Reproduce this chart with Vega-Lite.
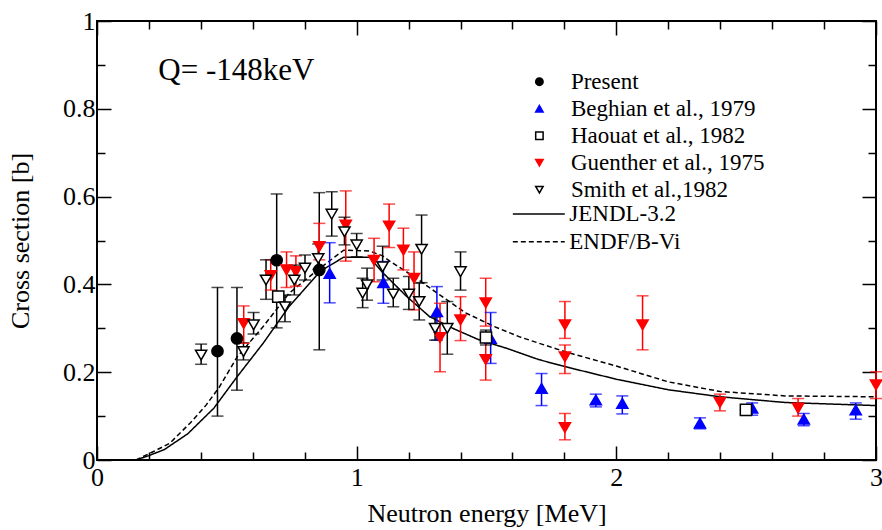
{
  "$schema": "https://vega.github.io/schema/vega-lite/v6.json",
  "width": 779,
  "height": 439,
  "autosize": {"type": "none"},
  "padding": {"left": 97, "top": 21, "right": 6, "bottom": 70},
  "background": "white",
  "config": {
    "view": {"stroke": "black", "strokeWidth": 2},
    "font": "Liberation Serif",
    "axis": {
      "grid": false,
      "domain": false,
      "tickColor": "black",
      "tickWidth": 1.5,
      "labelColor": "black",
      "titleColor": "black",
      "labelFont": "Liberation Serif",
      "titleFont": "Liberation Serif",
      "labelFontSize": 26,
      "titleFontSize": 26,
      "titleFontWeight": "normal",
      "labelFlush": false,
      "labelOverlap": false
    },
    "legend": {
      "labelFont": "Liberation Serif",
      "labelColor": "black",
      "labelFontSize": 23,
      "labelLimit": 400
    }
  },
  "datasets": {
    "pts": [
      {"series": "Present", "x": 0.464, "y": 0.248, "ymin": 0.100, "ymax": 0.393},
      {"series": "Present", "x": 0.539, "y": 0.277, "ymin": 0.159, "ymax": 0.393},
      {"series": "Present", "x": 0.692, "y": 0.455, "ymin": 0.301, "ymax": 0.606},
      {"series": "Present", "x": 0.856, "y": 0.433, "ymin": 0.251, "ymax": 0.609},
      {"series": "Beghian et al., 1979", "x": 0.896, "y": 0.425, "ymin": 0.358, "ymax": 0.495},
      {"series": "Beghian et al., 1979", "x": 1.103, "y": 0.404, "ymin": 0.357, "ymax": 0.452},
      {"series": "Beghian et al., 1979", "x": 1.309, "y": 0.338, "ymin": 0.273, "ymax": 0.395},
      {"series": "Beghian et al., 1979", "x": 1.516, "y": 0.277, "ymin": 0.220, "ymax": 0.336},
      {"series": "Beghian et al., 1979", "x": 1.712, "y": 0.163, "ymin": 0.124, "ymax": 0.197},
      {"series": "Beghian et al., 1979", "x": 1.921, "y": 0.137, "ymin": 0.121, "ymax": 0.150},
      {"series": "Beghian et al., 1979", "x": 2.023, "y": 0.129, "ymin": 0.105, "ymax": 0.146},
      {"series": "Beghian et al., 1979", "x": 2.322, "y": 0.084, "ymin": 0.071, "ymax": 0.096},
      {"series": "Beghian et al., 1979", "x": 2.523, "y": 0.118, "ymin": 0.102, "ymax": 0.130},
      {"series": "Beghian et al., 1979", "x": 2.722, "y": 0.093, "ymin": 0.078, "ymax": 0.106},
      {"series": "Beghian et al., 1979", "x": 2.922, "y": 0.114, "ymin": 0.093, "ymax": 0.130},
      {"series": "Haouat et al., 1982", "x": 0.698, "y": 0.372, "ymin": 0.361, "ymax": 0.383},
      {"series": "Haouat et al., 1982", "x": 1.498, "y": 0.279, "ymin": 0.262, "ymax": 0.296},
      {"series": "Haouat et al., 1982", "x": 2.499, "y": 0.114, "ymin": 0.114, "ymax": 0.114},
      {"series": "Guenther et al., 1975", "x": 0.565, "y": 0.311, "ymin": 0.266, "ymax": 0.351},
      {"series": "Guenther et al., 1975", "x": 0.669, "y": 0.420, "ymin": 0.387, "ymax": 0.456},
      {"series": "Guenther et al., 1975", "x": 0.730, "y": 0.433, "ymin": 0.393, "ymax": 0.474},
      {"series": "Guenther et al., 1975", "x": 0.766, "y": 0.429, "ymin": 0.396, "ymax": 0.465},
      {"series": "Guenther et al., 1975", "x": 0.856, "y": 0.486, "ymin": 0.456, "ymax": 0.539},
      {"series": "Guenther et al., 1975", "x": 0.958, "y": 0.535, "ymin": 0.453, "ymax": 0.613},
      {"series": "Guenther et al., 1975", "x": 1.067, "y": 0.455, "ymin": 0.406, "ymax": 0.505},
      {"series": "Guenther et al., 1975", "x": 1.125, "y": 0.533, "ymin": 0.484, "ymax": 0.583},
      {"series": "Guenther et al., 1975", "x": 1.180, "y": 0.478, "ymin": 0.433, "ymax": 0.528},
      {"series": "Guenther et al., 1975", "x": 1.221, "y": 0.414, "ymin": 0.342, "ymax": 0.474},
      {"series": "Guenther et al., 1975", "x": 1.321, "y": 0.279, "ymin": 0.201, "ymax": 0.357},
      {"series": "Guenther et al., 1975", "x": 1.400, "y": 0.319, "ymin": 0.272, "ymax": 0.372},
      {"series": "Guenther et al., 1975", "x": 1.497, "y": 0.358, "ymin": 0.305, "ymax": 0.414},
      {"series": "Guenther et al., 1975", "x": 1.497, "y": 0.229, "ymin": 0.182, "ymax": 0.276},
      {"series": "Guenther et al., 1975", "x": 1.802, "y": 0.308, "ymin": 0.277, "ymax": 0.361},
      {"series": "Guenther et al., 1975", "x": 1.802, "y": 0.235, "ymin": 0.197, "ymax": 0.262},
      {"series": "Guenther et al., 1975", "x": 1.802, "y": 0.074, "ymin": 0.046, "ymax": 0.106},
      {"series": "Guenther et al., 1975", "x": 2.101, "y": 0.308, "ymin": 0.251, "ymax": 0.374},
      {"series": "Guenther et al., 1975", "x": 2.399, "y": 0.131, "ymin": 0.112, "ymax": 0.150},
      {"series": "Guenther et al., 1975", "x": 2.700, "y": 0.118, "ymin": 0.100, "ymax": 0.140},
      {"series": "Guenther et al., 1975", "x": 3.000, "y": 0.171, "ymin": 0.140, "ymax": 0.201},
      {"series": "Smith et al.,1982", "x": 0.401, "y": 0.239, "ymin": 0.218, "ymax": 0.264},
      {"series": "Smith et al.,1982", "x": 0.564, "y": 0.247, "ymin": 0.228, "ymax": 0.267},
      {"series": "Smith et al.,1982", "x": 0.603, "y": 0.308, "ymin": 0.287, "ymax": 0.336},
      {"series": "Smith et al.,1982", "x": 0.651, "y": 0.410, "ymin": 0.366, "ymax": 0.456},
      {"series": "Smith et al.,1982", "x": 0.724, "y": 0.349, "ymin": 0.315, "ymax": 0.376},
      {"series": "Smith et al.,1982", "x": 0.760, "y": 0.410, "ymin": 0.376, "ymax": 0.444},
      {"series": "Smith et al.,1982", "x": 0.801, "y": 0.437, "ymin": 0.410, "ymax": 0.467},
      {"series": "Smith et al.,1982", "x": 0.852, "y": 0.459, "ymin": 0.434, "ymax": 0.492},
      {"series": "Smith et al.,1982", "x": 0.904, "y": 0.560, "ymin": 0.510, "ymax": 0.611},
      {"series": "Smith et al.,1982", "x": 0.953, "y": 0.520, "ymin": 0.490, "ymax": 0.553},
      {"series": "Smith et al.,1982", "x": 1.000, "y": 0.490, "ymin": 0.463, "ymax": 0.516},
      {"series": "Smith et al.,1982", "x": 1.023, "y": 0.380, "ymin": 0.347, "ymax": 0.414},
      {"series": "Smith et al.,1982", "x": 1.040, "y": 0.399, "ymin": 0.364, "ymax": 0.437},
      {"series": "Smith et al.,1982", "x": 1.100, "y": 0.440, "ymin": 0.410, "ymax": 0.487},
      {"series": "Smith et al.,1982", "x": 1.141, "y": 0.378, "ymin": 0.349, "ymax": 0.414},
      {"series": "Smith et al.,1982", "x": 1.201, "y": 0.378, "ymin": 0.343, "ymax": 0.418},
      {"series": "Smith et al.,1982", "x": 1.241, "y": 0.361, "ymin": 0.319, "ymax": 0.403},
      {"series": "Smith et al.,1982", "x": 1.250, "y": 0.480, "ymin": 0.404, "ymax": 0.558},
      {"series": "Smith et al.,1982", "x": 1.302, "y": 0.300, "ymin": 0.273, "ymax": 0.326},
      {"series": "Smith et al.,1982", "x": 1.349, "y": 0.300, "ymin": 0.241, "ymax": 0.361},
      {"series": "Smith et al.,1982", "x": 1.400, "y": 0.429, "ymin": 0.387, "ymax": 0.474}
    ],
    "lines": [
      {"model": "JENDL-3.2", "x": 0.15, "y": 0.0},
      {"model": "JENDL-3.2", "x": 0.20, "y": 0.010},
      {"model": "JENDL-3.2", "x": 0.26, "y": 0.024},
      {"model": "JENDL-3.2", "x": 0.35, "y": 0.060},
      {"model": "JENDL-3.2", "x": 0.45, "y": 0.118},
      {"model": "JENDL-3.2", "x": 0.54, "y": 0.190},
      {"model": "JENDL-3.2", "x": 0.64, "y": 0.266},
      {"model": "JENDL-3.2", "x": 0.74, "y": 0.350},
      {"model": "JENDL-3.2", "x": 0.86, "y": 0.430},
      {"model": "JENDL-3.2", "x": 0.95, "y": 0.462},
      {"model": "JENDL-3.2", "x": 1.05, "y": 0.462},
      {"model": "JENDL-3.2", "x": 1.10, "y": 0.427},
      {"model": "JENDL-3.2", "x": 1.19, "y": 0.374},
      {"model": "JENDL-3.2", "x": 1.28, "y": 0.327},
      {"model": "JENDL-3.2", "x": 1.37, "y": 0.300},
      {"model": "JENDL-3.2", "x": 1.47, "y": 0.274},
      {"model": "JENDL-3.2", "x": 1.58, "y": 0.254},
      {"model": "JENDL-3.2", "x": 1.70, "y": 0.229},
      {"model": "JENDL-3.2", "x": 1.80, "y": 0.213},
      {"model": "JENDL-3.2", "x": 2.00, "y": 0.184},
      {"model": "JENDL-3.2", "x": 2.20, "y": 0.160},
      {"model": "JENDL-3.2", "x": 2.40, "y": 0.144},
      {"model": "JENDL-3.2", "x": 2.65, "y": 0.131},
      {"model": "JENDL-3.2", "x": 3.00, "y": 0.124},
      {"model": "ENDF/B-Vi", "x": 0.15, "y": 0.0},
      {"model": "ENDF/B-Vi", "x": 0.22, "y": 0.020},
      {"model": "ENDF/B-Vi", "x": 0.28, "y": 0.038},
      {"model": "ENDF/B-Vi", "x": 0.36, "y": 0.085},
      {"model": "ENDF/B-Vi", "x": 0.42, "y": 0.125},
      {"model": "ENDF/B-Vi", "x": 0.47, "y": 0.165},
      {"model": "ENDF/B-Vi", "x": 0.54, "y": 0.235},
      {"model": "ENDF/B-Vi", "x": 0.64, "y": 0.304},
      {"model": "ENDF/B-Vi", "x": 0.74, "y": 0.380},
      {"model": "ENDF/B-Vi", "x": 0.85, "y": 0.433},
      {"model": "ENDF/B-Vi", "x": 0.95, "y": 0.478},
      {"model": "ENDF/B-Vi", "x": 1.05, "y": 0.476},
      {"model": "ENDF/B-Vi", "x": 1.10, "y": 0.465},
      {"model": "ENDF/B-Vi", "x": 1.13, "y": 0.452},
      {"model": "ENDF/B-Vi", "x": 1.22, "y": 0.418},
      {"model": "ENDF/B-Vi", "x": 1.32, "y": 0.376},
      {"model": "ENDF/B-Vi", "x": 1.42, "y": 0.335},
      {"model": "ENDF/B-Vi", "x": 1.53, "y": 0.304},
      {"model": "ENDF/B-Vi", "x": 1.63, "y": 0.280},
      {"model": "ENDF/B-Vi", "x": 1.80, "y": 0.247},
      {"model": "ENDF/B-Vi", "x": 2.00, "y": 0.214},
      {"model": "ENDF/B-Vi", "x": 2.20, "y": 0.178},
      {"model": "ENDF/B-Vi", "x": 2.40, "y": 0.156},
      {"model": "ENDF/B-Vi", "x": 2.65, "y": 0.146},
      {"model": "ENDF/B-Vi", "x": 3.00, "y": 0.144}
    ]
  },
  "resolve": {"axis": {"x": "independent", "y": "independent"}},
  "layer": [
    {
      "data": {"name": "lines"},
      "mark": {"type": "line", "color": "black", "strokeWidth": 1.5},
      "encoding": {
        "x": {"field": "x", "type": "quantitative",
              "scale": {"domain": [0, 3], "nice": false, "zero": false},
              "axis": {"orient": "bottom", "values": [0, 1, 2, 3], "tickSize": -14, "labelPadding": 18, "title": "Neutron energy [MeV]", "titlePadding": 10, "format": "~g"}},
        "y": {"field": "y", "type": "quantitative",
              "scale": {"domain": [0, 1], "nice": false, "zero": false},
              "axis": {"orient": "left", "values": [0, 0.2, 0.4, 0.6, 0.8, 1], "tickSize": -14, "labelPadding": 16, "title": "Cross section [b]", "titlePadding": 29, "format": "~g"}},
        "strokeDash": {"field": "model", "type": "nominal",
              "scale": {"domain": ["JENDL-3.2", "ENDF/B-Vi"], "range": [[1, 0], [5, 3]]},
              "legend": {"orient": "none", "legendX": 430.3, "legendY": 181.6, "title": null, "symbolType": "M-7,0H7", "symbolSize": 55, "symbolStrokeColor": "black", "symbolStrokeWidth": 1.5, "symbolFillColor": "transparent", "labelOffset": 19, "padding": 0, "rowPadding": 3.6}}
      }
    },
    {
      "data": {"name": "pts"},
      "mark": {"type": "rule", "strokeWidth": 1.5},
      "encoding": {
        "x": {"field": "x", "type": "quantitative",
              "axis": {"orient": "bottom", "values": [0.2, 0.4, 0.6, 0.8, 1.2, 1.4, 1.6, 1.8, 2.2, 2.4, 2.6, 2.8], "tickSize": -8, "labels": false, "title": null}},
        "y": {"field": "ymin", "type": "quantitative",
              "axis": {"orient": "left", "values": [0.1, 0.3, 0.5, 0.7, 0.9], "tickSize": -8, "labels": false, "title": null}},
        "y2": {"field": "ymax"},
        "color": {"field": "series", "type": "nominal", "legend": null,
              "scale": {"domain": ["Beghian et al., 1979", "Guenther et al., 1975", "Haouat et al., 1982", "Present", "Smith et al.,1982"],
                        "range": ["#0000ff", "#ff0000", "black", "black", "black"]}}
      }
    },
    {
      "data": {"name": "pts"},
      "mark": {"type": "tick", "orient": "horizontal", "size": 12, "thickness": 1.5},
      "encoding": {
        "x": {"field": "x", "type": "quantitative",
              "axis": {"orient": "top", "values": [0, 1, 2, 3], "tickSize": -14, "labels": false, "title": null}},
        "y": {"field": "ymax", "type": "quantitative",
              "axis": {"orient": "right", "values": [0, 0.2, 0.4, 0.6, 0.8, 1], "tickSize": -14, "labels": false, "title": null}},
        "color": {"field": "series", "type": "nominal", "legend": null}
      }
    },
    {
      "data": {"name": "pts"},
      "mark": {"type": "tick", "orient": "horizontal", "size": 12, "thickness": 1.5},
      "encoding": {
        "x": {"field": "x", "type": "quantitative",
              "axis": {"orient": "top", "values": [0.2, 0.4, 0.6, 0.8, 1.2, 1.4, 1.6, 1.8, 2.2, 2.4, 2.6, 2.8], "tickSize": -8, "labels": false, "title": null}},
        "y": {"field": "ymin", "type": "quantitative",
              "axis": {"orient": "right", "values": [0.1, 0.3, 0.5, 0.7, 0.9], "tickSize": -8, "labels": false, "title": null}},
        "color": {"field": "series", "type": "nominal", "legend": null}
      }
    },
    {
      "data": {"name": "pts"},
      "mark": {"type": "point", "filled": false, "size": 125, "strokeWidth": 1.5, "opacity": 1},
      "encoding": {
        "x": {"field": "x", "type": "quantitative", "axis": null},
        "y": {"field": "y", "type": "quantitative", "axis": null},
        "shape": {"field": "series", "type": "nominal",
              "scale": {"domain": ["Present", "Beghian et al., 1979", "Haouat et al., 1982", "Guenther et al., 1975", "Smith et al.,1982"],
                        "range": ["circle", "triangle-up", "square", "triangle-down", "triangle-down"]},
              "legend": {"orient": "none", "legendX": 430.9, "legendY": 49.2, "title": null, "symbolSize": 55, "labelOffset": 20, "padding": 0, "rowPadding": 3.0, "symbolStrokeWidth": 1.5}},
        "fill": {"field": "series", "type": "nominal",
              "scale": {"domain": ["Present", "Beghian et al., 1979", "Haouat et al., 1982", "Guenther et al., 1975", "Smith et al.,1982"],
                        "range": ["black", "#0000ff", "white", "#ff0000", "white"]},
              "legend": {"orient": "none", "legendX": 430.9, "legendY": 49.2, "title": null, "symbolSize": 55, "labelOffset": 20, "padding": 0, "rowPadding": 3.0, "symbolStrokeWidth": 1.5}},
        "stroke": {"field": "series", "type": "nominal",
              "scale": {"domain": ["Present", "Beghian et al., 1979", "Haouat et al., 1982", "Guenther et al., 1975", "Smith et al.,1982"],
                        "range": ["black", "#0000ff", "black", "#ff0000", "black"]},
              "legend": {"orient": "none", "legendX": 430.9, "legendY": 49.2, "title": null, "symbolSize": 55, "labelOffset": 20, "padding": 0, "rowPadding": 3.0, "symbolStrokeWidth": 1.5}}
      }
    },
    {
      "data": {"values": [{}]},
      "mark": {"type": "text", "text": "Q= -148keV", "align": "left", "baseline": "middle", "fontSize": 31, "font": "Liberation Serif", "color": "black"},
      "encoding": {
        "x": {"datum": 0.236, "type": "quantitative", "axis": null},
        "y": {"datum": 0.885, "type": "quantitative", "axis": null}
      }
    }
  ]
}
